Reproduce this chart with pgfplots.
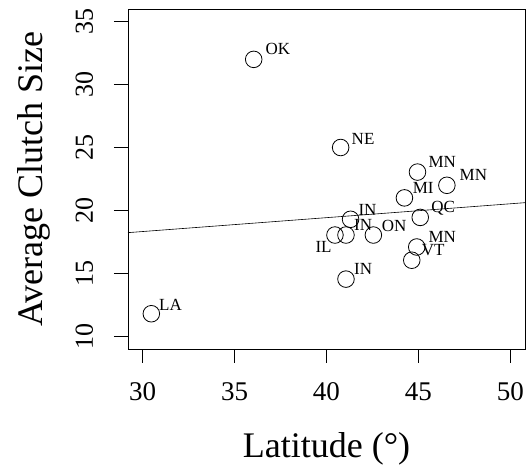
\documentclass[border=0pt]{standalone}
\usepackage{pgfplots}
\pgfplotsset{compat=1.18}
\usepackage{fontspec}
\setmainfont{Liberation Serif}
\begin{document}
\begin{tikzpicture}[x=1pt,y=1pt]
\useasboundingbox (-128,-116) rectangle (403,349);
\begin{axis}[
  at={(0,0)}, anchor=south west,
  scale only axis, width=397pt, height=340pt,
  xmin=29.2, xmax=50.8, ymin=9, ymax=36,
  xtick={30,35,40,45,50}, ytick={10,15,20,25,30,35},
  xtick pos=lower, ytick pos=left,
  tick align=outside, major tick length=14pt,
  every tick/.style={black, line width=0.9pt},
  axis line style={line width=0.9pt},
  /pgf/number format/assume math mode=true,
  xticklabel style={font=\fontsize{27}{30}\selectfont, anchor=base, yshift=-38pt},
  yticklabel style={font=\fontsize{26}{30}\selectfont, rotate=90, anchor=base, yshift=21pt},
  xlabel={Latitude (°)},
  ylabel={Average Clutch Size},
  xlabel style={font=\fontsize{36}{40}\selectfont, at={(rel axis cs:0.5,0)}, anchor=base, yshift=-109pt},
  ylabel style={font=\fontsize{36}{40}\selectfont, at={(rel axis cs:0,0.5)}, anchor=base, yshift=85pt},
  clip=false,
]
\addplot[only marks, mark=o, mark size=8.3pt, mark options={line width=0.8pt, black}] coordinates {
(36.04,32.0) (30.47,11.8) (40.77,25.0) (44.95,23.05) (46.55,22.0) (44.24,21.0)
(41.31,19.3) (45.10,19.45) (40.46,18.05) (41.06,18.05) (42.55,18.05)
(44.91,17.1) (44.64,16.05) (41.06,14.55)
};
\addplot[black, line width=0.6pt] coordinates {(29.2,18.24) (50.8,20.62)};
\begin{scope}[every node/.style={font=\fontsize{17}{20}\selectfont, inner sep=0pt}]
\node at (axis cs:37.35,32.80) {OK};
\node at (axis cs:41.99,25.70) {NE};
\node at (axis cs:46.30,23.84) {MN};
\node at (axis cs:47.99,22.81) {MN};
\node at (axis cs:45.26,21.82) {MI};
\node at (axis cs:42.23,20.08) {IN};
\node at (axis cs:46.35,20.16) {QC};
\node at (axis cs:41.99,18.85) {IN};
\node at (axis cs:43.68,18.77) {ON};
\node at (axis cs:46.30,17.92) {MN};
\node at (axis cs:45.80,16.89) {VT};
\node at (axis cs:39.84,17.11) {IL};
\node at (axis cs:41.99,15.36) {IN};
\node at (axis cs:31.51,12.47) {LA};
\end{scope}
\end{axis}
\end{tikzpicture}
\end{document}
